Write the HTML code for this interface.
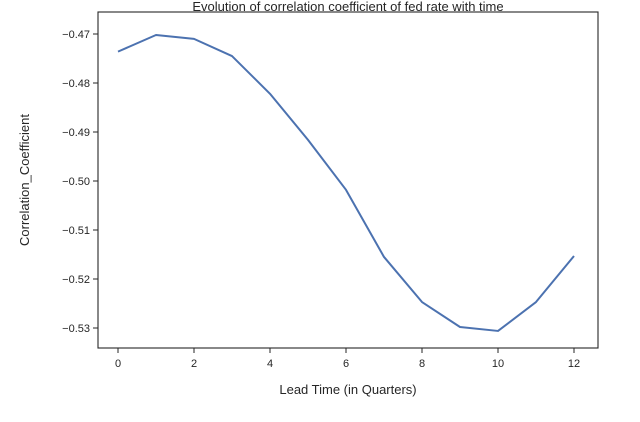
<!DOCTYPE html>
<html><head><meta charset="utf-8"><style>
body{margin:0;background:#fff;width:640px;height:417px;overflow:hidden;font-family:"Liberation Sans",sans-serif;}
</style></head><body>
<svg id="chart" width="640" height="417" xmlns="http://www.w3.org/2000/svg"></svg>
<script>
const leadTimes=[0,1,2,3,4,5,6,7,8,9,10,11,12];
const corrValues=[-0.4736,-0.4702,-0.4710,-0.4745,-0.4822,-0.4916,-0.5018,-0.5155,-0.5247,-0.5298,-0.5306,-0.5247,-0.5153];
const xTicks=[0,2,4,6,8,10,12];
const yTicks=[-0.47,-0.48,-0.49,-0.50,-0.51,-0.52,-0.53];
const yTickLabels=["−0.47","−0.48","−0.49","−0.50","−0.51","−0.52","−0.53"];
const L=98,R=598,T=12,B=348;
function xs(v){return 118+v*38;}
function ys(v){return 34+(-0.47-v)/0.01*49;}
const svg=document.getElementById('chart');
const NS="http://www.w3.org/2000/svg";
function mk(t,a,txt){const e=document.createElementNS(NS,t);for(const k in a)e.setAttribute(k,a[k]);if(txt!==undefined)e.textContent=txt;svg.appendChild(e);return e;}
let frame=mk('rect',{x:L,y:T,width:R-L,height:B-T,fill:'none',stroke:'#262626','stroke-width':1.1});


xTicks.forEach(v=>{
 let t=mk('line',{x1:xs(v),x2:xs(v),y1:B,y2:B+5,stroke:'#262626'});
 
 
 let l=mk('text',{x:xs(v),y:B+19,'text-anchor':'middle','font-size':11,fill:'#262626'},String(v));
 
 
});
yTicks.forEach((v,i)=>{
 let t=mk('line',{x1:L-5,x2:L,y1:ys(v),y2:ys(v),stroke:'#262626'});
 
 
 let l=mk('text',{x:L-8,y:ys(v)+4,'text-anchor':'end','font-size':11,fill:'#262626'},yTickLabels[i]);
 
 
});
let d=leadTimes.map((v,i)=>(i?'L':'M')+xs(v)+','+ys(corrValues[i])).join(' ');
let p=mk('path',{d:d,fill:'none',stroke:'#4c72b0','stroke-width':2,'stroke-linejoin':'round'});


let tt=mk('text',{x:348,y:11,'text-anchor':'middle','font-size':13,fill:'#262626'},'Evolution of correlation coefficient of fed rate with time');


let xt=mk('text',{x:348,y:394,'text-anchor':'middle','font-size':13,fill:'#262626'},'Lead Time (in Quarters)');


let yt=mk('text',{x:29,y:180,'text-anchor':'middle','font-size':13,fill:'#262626',transform:'rotate(-90 29 180)'},'Correlation_Coefficient');


</script>
</body></html>
